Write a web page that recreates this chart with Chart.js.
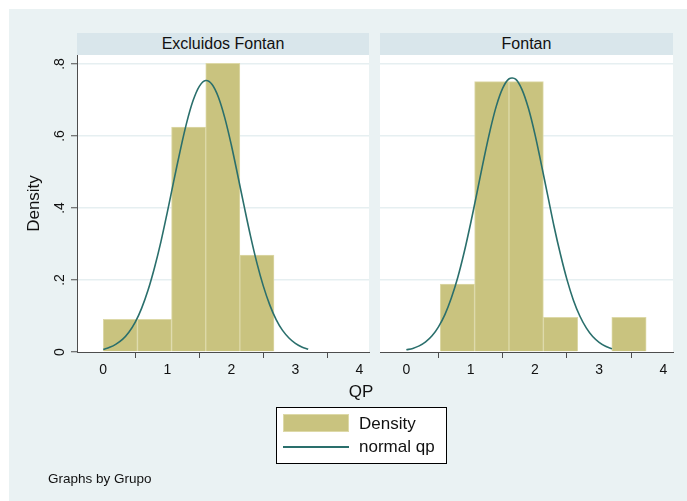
<!DOCTYPE html>
<html>
<head>
<meta charset="utf-8">
<script src="https://cdn.jsdelivr.net/npm/chart.js@4.4.1/dist/chart.umd.min.js"></script>
<style>
body { margin: 0; background: #fff; font-family: Arial, "Liberation Sans", sans-serif; color: #111; }
#page { position: relative; width: 687px; height: 501px; overflow: hidden; }
#bg { position: absolute; left: 9px; top: 9px; right: 0; bottom: 0; background: #eaf2f3; }
.strip { position: absolute; top: 33px; height: 22px; background: #d9e6eb; font-size: 16px; line-height: 22px; text-align: center; }
canvas { position: absolute; left: 0; top: 0; }
#xtitle { position: absolute; left: 321px; width: 80px; top: 382px; font-size: 17px; line-height: 20px; text-align: center; }
#legend { position: absolute; left: 276px; top: 407px; width: 171px; height: 57px; box-sizing: border-box; border: 1px solid #000; background: #fff; }
#legend .sw { position: absolute; left: 6px; top: 6px; width: 66px; height: 18px; box-sizing: border-box; background: #c9c37f; border: 1px solid #ddd9a8; }
#legend .ln { position: absolute; left: 6px; top: 38px; width: 66px; height: 2px; background: #2a6f6c; }
#legend .tx { position: absolute; left: 82px; font-size: 17px; line-height: 20px; white-space: nowrap; }
#note { position: absolute; left: 48px; top: 471px; font-size: 13.5px; line-height: 16px; }
</style>
</head>
<body>
<div id="page">
  <div id="bg"></div>
  <div class="strip" style="left:77px;width:292px;">Excluidos Fontan</div>
  <div class="strip" style="left:380px;width:293px;">Fontan</div>
  <canvas id="chartLeft" width="687" height="501"></canvas>
  <canvas id="chartRight" width="687" height="501"></canvas>
  <div id="xtitle">QP</div>
  <div id="legend">
    <div class="sw"></div>
    <div class="tx" style="top:6px;">Density</div>
    <div class="ln"></div>
    <div class="tx" style="top:29px;">normal qp</div>
  </div>
  <div id="note">Graphs by Grupo</div>
</div>
<script>
// histogram bins (bin centres) and densities per panel
const leftBinCenters = [0.267, 0.8, 1.333, 1.867, 2.4];
const leftDensity = [0.091, 0.091, 0.625, 0.802, 0.269];
const rightBinCenters = [0.795, 1.33, 1.865, 2.4, 3.465];
const rightDensity = [0.189, 0.751, 0.751, 0.096, 0.096];

// normal qp curve
const curveX = [0, 0.1, 0.2, 0.3, 0.4, 0.5, 0.6, 0.7, 0.8, 0.9, 1.0, 1.1, 1.2, 1.3, 1.4, 1.5, 1.6,
	1.7, 1.8, 1.9, 2.0, 2.1, 2.2, 2.3, 2.4, 2.5, 2.6, 2.7, 2.8, 2.9, 3.0, 3.1, 3.2];
const leftCurve = [0.007, 0.013, 0.022, 0.035, 0.055, 0.083, 0.122, 0.172, 0.234, 0.306, 0.388, 0.474, 0.558,
	0.635, 0.697, 0.738, 0.754, 0.743, 0.707, 0.649, 0.575, 0.491, 0.405, 0.322, 0.247, 0.183, 0.131,
	0.090, 0.060, 0.039, 0.024, 0.014, 0.008];
const rightCurve = [0.006, 0.010, 0.017, 0.028, 0.045, 0.070, 0.104, 0.150, 0.207, 0.277, 0.357, 0.443, 0.531,
	0.613, 0.683, 0.733, 0.759, 0.758, 0.729, 0.677, 0.606, 0.522, 0.435, 0.348, 0.270, 0.201, 0.144,
	0.100, 0.067, 0.043, 0.027, 0.016, 0.009];

const xTickValues = [0, 1, 2, 3, 4];
const yTickValues = [0, 0.2, 0.4, 0.6, 0.8];

const barColor = "#c9c37f";
const barEdge = "#ddd9a8";
const curveColor = "#2a6f6c";
const axisColor = "#4d4d4d";
const gridColor = "#e6eff1";

const plotBg = {
	id: "plotBg",
	beforeDraw(chart) {
		const { ctx, chartArea: { left, top, width, height } } = chart;
		ctx.save();
		ctx.fillStyle = "#fff";
		ctx.fillRect(left, top, width, height);
		ctx.restore();
	},
};

function zeroPad(scale) {
	scale.paddingTop = 0;
	scale.paddingBottom = 0;
	scale.paddingLeft = 0;
	scale.paddingRight = 0;
}

function makeConfig(centers, dens, curve, showY, padLeft, padRight) {
	return {
		type: "bar",
		data: {
			datasets: [
				{
					type: "line",
					data: curveX.map((x, i) => ({ x: x, y: curve[i] })),
					borderColor: curveColor,
					borderWidth: 1.6,
					pointRadius: 0,
					tension: 0.35,
					fill: false,
					order: 0,
				},
				{
					type: "bar",
					data: centers.map((x, i) => ({ x: x, y: dens[i] })),
					backgroundColor: barColor,
					borderColor: barEdge,
					borderWidth: 1,
					barPercentage: 1,
					categoryPercentage: 1,
					order: 1,
				},
			],
		},
		options: {
			responsive: false,
			animation: false,
			devicePixelRatio: 1,
			layout: {
				padding: { left: padLeft, right: padRight, top: 55, bottom: 119 },
			},
			scales: {
				x: {
					type: "linear",
					min: -0.41,
					max: 4.15,
					offset: false,
					afterBuildTicks: (scale) => {
						scale.ticks = xTickValues.map((v) => ({ value: v }));
					},
					afterFit: (scale) => {
						scale.height = 30;
						zeroPad(scale);
					},
					grid: {
						drawOnChartArea: false,
						drawTicks: true,
						tickLength: 6,
						tickColor: axisColor,
						tickWidth: 1,
					},
					border: { display: true, color: axisColor, width: 1, z: 1 },
					ticks: {
						padding: 4,
						color: "#111",
						font: { family: "Arial, 'Liberation Sans'", size: 14 },
						maxRotation: 0,
						autoSkip: false,
					},
				},
				y: {
					type: "linear",
					min: 0,
					max: 0.825,
					afterBuildTicks: (scale) => {
						scale.ticks = yTickValues.map((v) => ({ value: v }));
					},
					afterFit: (scale) => {
						scale.width = showY ? 68 : 0;
						zeroPad(scale);
					},
					grid: {
						color: (c) => (c.tick && c.tick.value === 0 ? "rgba(0,0,0,0)" : gridColor),
						lineWidth: 1.5,
						drawTicks: showY,
						tickLength: 6,
						tickColor: axisColor,
						tickWidth: 1,
					},
					border: { display: showY, color: axisColor, width: 1, z: 1 },
					ticks: {
						display: showY,
						minRotation: 90,
						maxRotation: 90,
						crossAlign: "center",
						padding: 5,
						color: "#111",
						autoSkip: false,
						font: { family: "Arial, 'Liberation Sans'", size: 14 },
						callback: (v) => (v === 0 ? "0" : String(v).replace(/^0/, "")),
					},
					title: {
						display: showY,
						text: "Density",
						color: "#111",
						font: { family: "Arial, 'Liberation Sans'", size: 17 },
						padding: { top: 15, bottom: 0 },
					},
				},
			},
			plugins: {
				legend: { display: false },
				tooltip: { enabled: false },
			},
			hover: { mode: null },
		},
		plugins: [plotBg],
	};
}

const chartLeft = new Chart(document.getElementById("chartLeft"),
	makeConfig(leftBinCenters, leftDensity, leftCurve, true, 9, 318));
const chartRight = new Chart(document.getElementById("chartRight"),
	makeConfig(rightBinCenters, rightDensity, rightCurve, false, 380, 14));
</script>
</body>
</html>
